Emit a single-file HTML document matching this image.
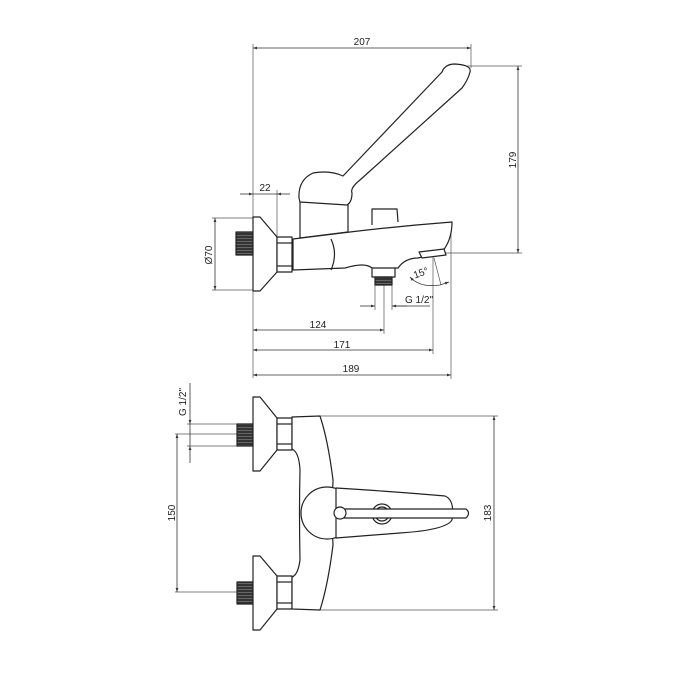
<!DOCTYPE html>
<html><head><meta charset="utf-8"><style>
html,body{margin:0;padding:0;background:#fff}
svg{display:block}
text{font-family:"Liberation Sans",sans-serif;font-size:10px;fill:#222}
</style></head><body>
<svg width="700" height="700" viewBox="0 0 700 700" xmlns="http://www.w3.org/2000/svg">
<defs>
<marker id="a" viewBox="0 0 10 10" refX="10" refY="5" markerWidth="7" markerHeight="5" orient="auto-start-reverse"><path d="M0,1.5 L10,5 L0,8.5z" fill="#333"/></marker>
<pattern id="h" width="3" height="3" patternUnits="userSpaceOnUse"><rect width="3" height="3" fill="#333"/><line x1="0" y1="1.5" x2="3" y2="1.5" stroke="#888" stroke-width="0.6"/></pattern>
</defs>
<g stroke="#555" stroke-width="0.7" fill="none">
<line x1="253" y1="44" x2="253" y2="378"/>
<line x1="471" y1="44" x2="471" y2="68"/>
<line x1="466" y1="66" x2="522" y2="66"/>
<line x1="440" y1="253" x2="522" y2="253"/>
<line x1="277" y1="190" x2="277" y2="238"/>
<line x1="212" y1="218" x2="253" y2="218"/>
<line x1="212" y1="290" x2="253" y2="290"/>
<line x1="375" y1="282" x2="375" y2="310"/>
<line x1="392" y1="282" x2="392" y2="310"/>
<line x1="384" y1="280" x2="384" y2="334"/>
<line x1="433" y1="255" x2="433" y2="354"/>
<line x1="451" y1="222" x2="451" y2="379"/>
<line x1="434" y1="258" x2="441" y2="285"/>
</g>
<g stroke="#333" stroke-width="0.8" fill="none">
<line x1="253" y1="48" x2="471" y2="48" marker-start="url(#a)" marker-end="url(#a)"/>
<line x1="518" y1="66" x2="518" y2="253" marker-start="url(#a)" marker-end="url(#a)"/>
<line x1="240" y1="194" x2="253" y2="194" marker-end="url(#a)"/>
<line x1="253" y1="194" x2="277" y2="194"/>
<line x1="290" y1="194" x2="277" y2="194" marker-end="url(#a)"/>
<line x1="215" y1="218" x2="215" y2="290" marker-start="url(#a)" marker-end="url(#a)"/>
<line x1="360" y1="306" x2="375" y2="306" marker-end="url(#a)"/>
<line x1="407" y1="306" x2="392" y2="306" marker-end="url(#a)"/>
<line x1="392" y1="306" x2="430" y2="306"/>
<line x1="253" y1="330" x2="384" y2="330" marker-start="url(#a)" marker-end="url(#a)"/>
<line x1="253" y1="350" x2="433" y2="350" marker-start="url(#a)" marker-end="url(#a)"/>
<line x1="253" y1="375" x2="451" y2="375" marker-start="url(#a)" marker-end="url(#a)"/>
<path d="M410,277 Q420,288 440,285 L449,282" marker-start="url(#a)" marker-end="url(#a)"/>
</g>
<text x="362" y="45" text-anchor="middle">207</text>
<text x="265" y="191" text-anchor="middle">22</text>
<text x="318" y="328" text-anchor="middle">124</text>
<text x="342" y="348" text-anchor="middle">171</text>
<text x="351" y="372" text-anchor="middle">189</text>
<text x="405" y="303">G 1/2"</text>
<text transform="translate(422,276) rotate(-20)" text-anchor="middle">15°</text>
<text transform="translate(516,160) rotate(-90)" text-anchor="middle">179</text>
<text transform="translate(212,255) rotate(-90)" text-anchor="middle">Ø70</text>

<g stroke="#222" stroke-width="1.2" fill="#fff" stroke-linejoin="round">
<rect x="236" y="232" width="17" height="23" fill="url(#h)"/>
<path d="M253,217 L260,217 L277,237 L277,272 L260,291 L253,291 Z"/>
<rect x="277" y="237" width="15" height="35"/>
<line x1="277" y1="243" x2="292" y2="243"/><line x1="277" y1="266" x2="292" y2="266"/>
<path d="M300,238 L300,200 L348,200 L348,232 Z"/>
<path d="M299,198 Q298,180 313,173 Q330,170 343,176 L442,72 Q445,64 455,64 Q472,65 470,72 Q468,80 462,88 L360,180 Q350,188 352,193 Q352,202 347,205 L300,202 Z"/>
<path d="M372,225 L372,209 L397,209 L398,222"/>
<path d="M293,239 L350,232 Q400,226 452,222 Q452,240 442,252 L418,258 Q405,258 398,268 L372,268 Q365,262 345,268 L293,270 Z"/>
<path d="M331,239 Q338,254 331,270" fill="none"/>
<path d="M419,252 L444,249 L446,255 L422,258 Z"/>
<rect x="375" y="277" width="17" height="8" fill="url(#h)"/>
<path d="M372,268 L372,277 L395,277 L395,268" fill="none"/>
</g>

<g stroke="#555" stroke-width="0.7" fill="none">
<line x1="175" y1="434" x2="237" y2="434"/>
<line x1="175" y1="592" x2="237" y2="592"/>
<line x1="187" y1="424" x2="237" y2="424"/>
<line x1="187" y1="446" x2="237" y2="446"/>
<line x1="320" y1="416" x2="498" y2="416"/>
<line x1="320" y1="610" x2="498" y2="610"/>
</g>
<g stroke="#333" stroke-width="0.8" fill="none">
<line x1="177" y1="434" x2="177" y2="592" marker-start="url(#a)" marker-end="url(#a)"/>
<line x1="494" y1="416" x2="494" y2="610" marker-start="url(#a)" marker-end="url(#a)"/>
<line x1="190" y1="383" x2="190" y2="424" marker-end="url(#a)"/>
<line x1="190" y1="463" x2="190" y2="446" marker-end="url(#a)"/>
<line x1="190" y1="424" x2="190" y2="446"/>
</g>
<text transform="translate(175,513) rotate(-90)" text-anchor="middle">150</text>
<text transform="translate(491,513) rotate(-90)" text-anchor="middle">183</text>
<text transform="translate(186,402) rotate(-90)" text-anchor="middle">G 1/2"</text>

<g stroke="#222" stroke-width="1.2" fill="#fff" stroke-linejoin="round">
<rect x="237" y="424" width="16" height="22" fill="url(#h)"/>
<path d="M253,397 L260,397 L277,418 L277,450 L260,471 L253,471 Z"/>
<rect x="277" y="418" width="15" height="32"/>
<line x1="277" y1="424" x2="292" y2="424"/><line x1="277" y1="444" x2="292" y2="444"/>
<rect x="237" y="582" width="16" height="22" fill="url(#h)"/>
<path d="M253,556 L260,556 L277,576 L277,609 L260,630 L253,630 Z"/>
<rect x="277" y="576" width="15" height="33"/>
<line x1="277" y1="582" x2="292" y2="582"/><line x1="277" y1="603" x2="292" y2="603"/>
<path d="M292,417 L320,416 Q328,440 333,480 Q333,500 325,513 Q333,530 333,545 Q328,585 320,610 L292,609 L292,577 Q298,575 300,560 Q299,513 300,470 Q299,452 292,449 Z"/>
<circle cx="327" cy="513" r="26"/>
<path d="M336,488 Q400,492 445,496 Q455,500 452,520 Q446,530 400,533 L336,538 Z"/>
<circle cx="382" cy="514" r="10"/>
<circle cx="382" cy="514" r="7"/>
<path d="M340,509 L466,509 Q471,513 466,518 L340,518 Z"/>
<circle cx="340" cy="513" r="6"/>
</g>
</svg>
</body></html>
